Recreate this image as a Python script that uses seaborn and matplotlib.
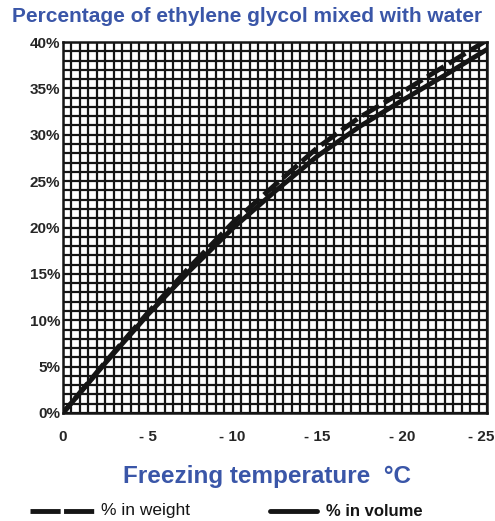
import matplotlib
matplotlib.use("Agg")
import matplotlib.pyplot as plt
import matplotlib.transforms as mtrans
import seaborn as sns
import pandas as pd
from matplotlib.ticker import MultipleLocator
from matplotlib.lines import Line2D

temps = [0, -2.5, -5, -7.5, -10, -12.5, -15, -17.5, -20, -22.5, -25]
pct_weight = [0, 5.5, 10.8, 15.8, 20.5, 24.6, 28.6, 31.9, 34.6, 37.4, 40.2]
pct_volume = [0, 5.4, 10.6, 15.4, 19.9, 23.9, 27.7, 30.9, 33.7, 36.4, 39.2]
y_ticks = [0, 5, 10, 15, 20, 25, 30, 35, 40]
y_labels = ["0%", "5%", "10%", "15%", "20%", "25%", "30%", "35%", "40%"]
x_ticks = [0, -5, -10, -15, -20, -25]
x_labels = ["0", "- 5", "- 10", "- 15", "- 20", "- 25"]
series_names = ["% in weight", "% in volume"]

df = pd.concat([
    pd.DataFrame({"T": temps, "pct": pct_weight, "series": series_names[0]}),
    pd.DataFrame({"T": temps, "pct": pct_volume, "series": series_names[1]}),
])

sns.set_style("white")
plt.rcParams['font.family'] = ['Liberation Sans', 'DejaVu Sans']

W, H = 495, 521
blue = "#3a56a8"
ink = "#151515"
fig = plt.figure(figsize=(W / 100, H / 100), dpi=100)
ax = fig.add_axes([63 / W, 1 - 413 / H, (487 - 63) / W, (413 - 42) / H])

ax.set_xlim(0, -25)
ax.set_ylim(0, 40)
ax.xaxis.set_minor_locator(MultipleLocator(0.5))
ax.yaxis.set_minor_locator(MultipleLocator(1))
ax.set_xticks(x_ticks)
ax.set_xticklabels(x_labels, fontsize=11, fontweight="bold")
ax.set_yticks(y_ticks)
ax.set_yticklabels(y_labels, fontsize=11, fontweight="bold")
ax.grid(True, which="both", color=ink, linewidth=1.6)
ax.set_axisbelow(True)
ax.tick_params(axis="x", which="major", length=0, pad=12)
ax.tick_params(axis="y", which="major", length=0, pad=2)
ax.tick_params(axis="both", which="minor", length=0)
for s in ax.spines.values():
    s.set_color(ink)
    s.set_linewidth(1.8)

# nudge the last x label so it stays in the picture
lbls = ax.get_xticklabels()
lbls[-1].set_transform(lbls[-1].get_transform() +
                       mtrans.ScaledTranslation(-6 / 100, 0, fig.dpi_scale_trans))

sns.lineplot(data=df, x="T", y="pct", hue="series", style="series",
             palette={series_names[0]: ink, series_names[1]: ink},
             dashes={series_names[0]: (4, 1.2), series_names[1]: ""},
             linewidth=3.5, ax=ax, legend=False)

ax.set_xlabel("")
ax.set_ylabel("")

fig.text(0.5, 1 - 17 / H, "Percentage of ethylene glycol mixed with water",
         ha="center", va="center", color=blue, fontsize=15, fontweight="bold")
fig.text(267 / W, 1 - 477 / H, "Freezing temperature  °C",
         ha="center", va="center", color=blue, fontsize=17.5, fontweight="bold")

# legend at the bottom
ly = 1 - 511 / H
fig.add_artist(Line2D([30 / W, 95 / W], [ly, ly], color=ink, lw=3.5,
                      dashes=(6.2, 0.7), transform=fig.transFigure))
fig.text(101 / W, ly, series_names[0], ha="left", va="center",
         fontsize=12.5, color=ink)
fig.add_artist(Line2D([270 / W, 317 / W], [ly, ly], color=ink, lw=3.5,
                      transform=fig.transFigure))
fig.text(326 / W, ly, series_names[1], ha="left", va="center",
         fontsize=12, fontweight="bold", color=ink)

fig.savefig("out.png", dpi=100)
